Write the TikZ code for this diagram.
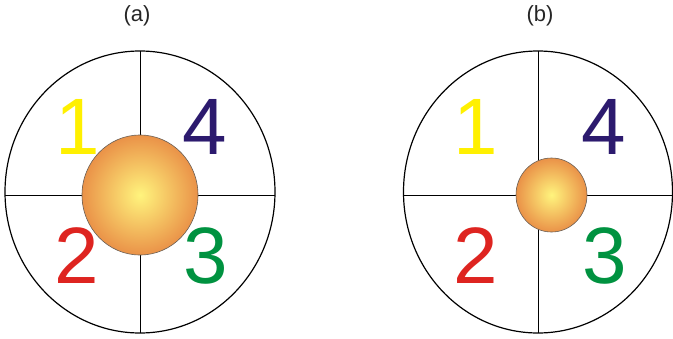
\documentclass[tikz,border=0pt]{standalone}
\usepackage{fontspec}
\setmainfont{Liberation Sans}
\definecolor{cyel}{RGB}{255,240,0}
\definecolor{cnavy}{RGB}{44,26,110}
\definecolor{cred}{RGB}{222,36,32}
\definecolor{cgreen}{RGB}{0,146,64}
\definecolor{sphin}{RGB}{255,244,125}
\definecolor{sphout}{RGB}{234,146,72}
\definecolor{sphline}{RGB}{105,95,85}
\begin{document}
\begin{tikzpicture}[x=1pt,y=1pt,
  ring/.style={draw=black,line width=1.2pt},
  cross/.style={draw=black,line width=1pt},
  digit/.style={anchor=base,inner sep=0pt,font=\fontsize{80}{80}\selectfont},
  caplabel/.style={anchor=base,inner sep=0pt,font=\fontsize{22}{22}\selectfont,text=black!85},
  sphere/.style={inner color=sphin,outer color=sphout}]
\useasboundingbox (0,0) rectangle (673,-338);
% ---- (a)
\coordinate (ca) at (140,-192);
\coordinate (aT) at (140,-51);
\coordinate (aB) at (140,-333);
\coordinate (aL) at (5.2,-195);
\coordinate (aR) at (274.8,-195);
\draw[ring] (ca) ellipse [x radius=135, y radius=141];
\draw[cross] (aT) -- (aB);
\draw[cross] (aL) -- (aR);
\coordinate (sa) at (140,-195);
\shade[sphere] (sa) ellipse [x radius=58, y radius=60];
\draw[draw=sphline,line width=0.6pt] (sa) ellipse [x radius=58, y radius=60];
\node[caplabel] (la) at (137,-21.5) {(a)};
\node[digit,text=cyel] (a1) at (78,-154) {1};
\node[digit,text=cnavy] (a4) at (204.5,-154) {4};
\node[digit,text=cred] (a2) at (77,-283) {2};
\node[digit,text=cgreen] (a3) at (205.5,-283) {3};
% ---- (b)
\coordinate (cb) at (538,-192);
\coordinate (bT) at (538.5,-51);
\coordinate (bB) at (538.5,-333);
\coordinate (bL) at (403.2,-195);
\coordinate (bR) at (672.8,-195);
\draw[ring] (cb) ellipse [x radius=134.5, y radius=141];
\draw[cross] (bT) -- (bB);
\draw[cross] (bL) -- (bR);
\coordinate (sb) at (551.5,-195);
\shade[sphere] (sb) ellipse [x radius=35.5, y radius=37];
\draw[draw=sphline,line width=0.6pt] (sb) ellipse [x radius=35.5, y radius=37];
\node[caplabel] (lb) at (540,-21.5) {(b)};
\node[digit,text=cyel] (b1) at (476,-154) {1};
\node[digit,text=cnavy] (b4) at (603.5,-154) {4};
\node[digit,text=cred] (b2) at (475.5,-283) {2};
\node[digit,text=cgreen] (b3) at (605,-283) {3};
\end{tikzpicture}
\end{document}
